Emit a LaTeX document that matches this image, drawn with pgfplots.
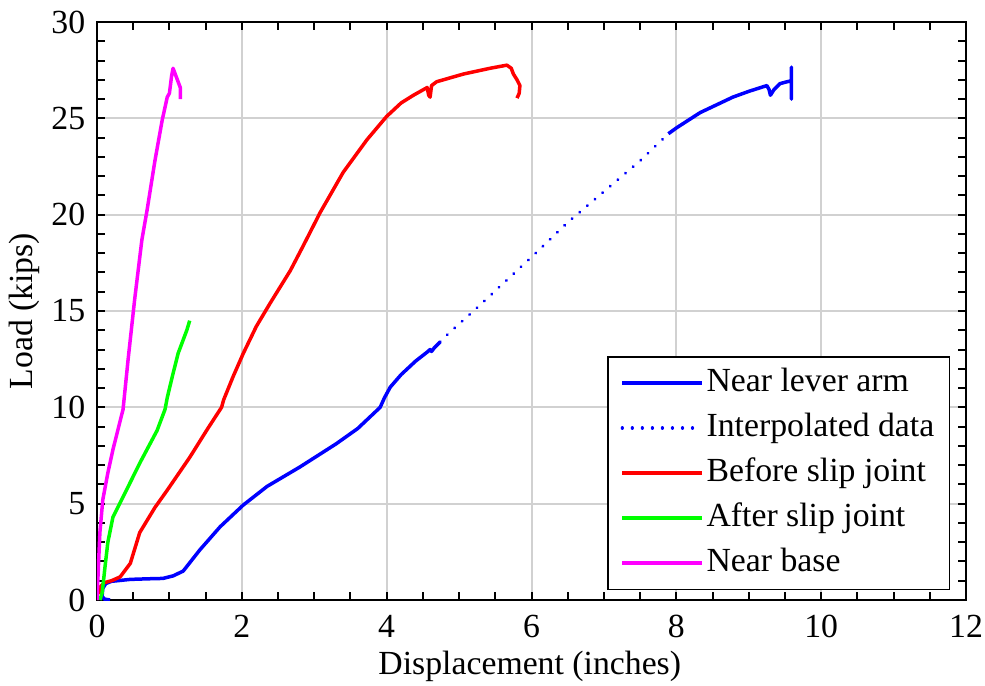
\documentclass[border=0pt]{standalone}
\usepackage{fontspec}
\setmainfont{Liberation Serif}
\usepackage{pgfplots}
\pgfplotsset{compat=1.18}
\definecolor{cblue}{RGB}{0,0,255}
\definecolor{cred}{RGB}{255,0,0}
\definecolor{cgreen}{RGB}{0,255,0}
\definecolor{cmag}{RGB}{255,0,255}
\begin{document}
\fontsize{13.5}{16}\selectfont
\begin{tikzpicture}
\begin{axis}[
 at={(0,0)}, anchor=south west,
 scale only axis, width=347.6pt, height=231.2pt,
 xmin=0, xmax=12, ymin=0, ymax=30,
 xtick={0,2,...,12}, ytick={0,5,...,30},
 minor x tick num=3, minor y tick num=4,
 tick align=inside, major tick length=3.2pt, minor tick length=3.2pt,
 tick style={black, line width=0.8pt},
 grid=major, major grid style={color=black!18, line width=0.8pt},
 axis line style={line width=0.8pt},
 /pgf/number format/assume math mode=true,
 ticklabel style={font=\fontsize{13.5}{16}\selectfont},
 xticklabel style={yshift=-1.5pt},
 label style={font=\fontsize{13.5}{16}\selectfont},
 xlabel={Displacement (inches)}, ylabel={Load (kips)},
 xlabel style={at={(axis description cs:0.498,-0.115)}, anchor=center},
 ylabel style={at={(axis description cs:-0.083,0.5)}, anchor=center},
 legend style={at={(0.9816,0.0173)}, anchor=south east, draw=black, line width=0.6pt,
   font=\fontsize{13.5}{16}\selectfont, row sep=3pt, inner xsep=5pt, inner ysep=3pt,
   nodes={inner sep=1pt, text height=10pt, text depth=3pt},
   cells={anchor=west}},
 legend image code/.code={\draw[#1] (0pt,0pt) -- (32pt,0pt);},
 every axis plot/.append style={line width=1.4pt, line join=round},
]
\addplot[cblue] coordinates {(0.18,0.0)(0.10,0.05)(0.07,0.2)(0.08,0.6)(0.12,0.85)(0.2,0.97)(0.46,1.07)(0.7,1.1)(0.91,1.12)(1.05,1.25)(1.19,1.5)(1.42,2.6)(1.7,3.8)(2.02,4.93)(2.35,5.9)(2.8,6.9)(3.3,8.1)(3.6,8.9)(3.91,10.0)(3.97,10.5)(4.05,11.05)(4.2,11.7)(4.4,12.4)(4.56,12.87)(4.6,13.0)(4.62,12.9)(4.66,13.1)(4.74,13.4)};
\addlegendentry{Near lever arm}
\addplot[cblue, line width=1.3pt, line cap=round, dash pattern=on 0.01pt off 4pt] coordinates {(4.74,13.4)(4.86,13.86)(5.2,15.0)(5.6,16.4)(6.0,17.8)(6.5,19.6)(7.0,21.2)(7.5,22.8)(7.89,24.2)};
\addlegendentry{Interpolated data}
\addplot[cred] coordinates {(0.03,0.3)(0.05,0.7)(0.1,0.9)(0.2,1.0)(0.32,1.2)(0.46,1.9)(0.59,3.5)(0.8,4.8)(0.97,5.7)(1.28,7.4)(1.53,8.9)(1.72,10.0)(1.75,10.4)(1.88,11.6)(2.02,12.8)(2.2,14.2)(2.39,15.4)(2.67,17.1)(2.85,18.4)(3.08,20.1)(3.4,22.2)(3.73,23.9)(4.0,25.1)(4.2,25.8)(4.37,26.2)(4.56,26.6)(4.58,26.2)(4.60,26.1)(4.62,26.7)(4.69,26.9)(5.06,27.3)(5.43,27.6)(5.66,27.76)(5.72,27.6)(5.75,27.3)(5.8,27.0)(5.84,26.7)(5.83,26.3)(5.80,26.05)};
\addlegendentry{Before slip joint}
\addplot[cgreen] coordinates {(0.04,0)(0.07,0.36)(0.09,1.0)(0.11,1.7)(0.15,3.0)(0.22,4.3)(0.36,5.35)(0.59,7.1)(0.83,8.8)(0.94,9.9)(0.97,10.5)(1.04,11.6)(1.12,12.8)(1.2,13.6)(1.24,14.0)(1.28,14.5)};
\addlegendentry{After slip joint}
\addplot[cmag] coordinates {(0.0,0)(0.01,0.9)(0.04,3.5)(0.08,5.2)(0.15,6.6)(0.22,7.8)(0.36,9.9)(0.43,12.5)(0.52,15.6)(0.62,18.7)(0.69,20.2)(0.80,22.8)(0.90,24.9)(0.97,26.1)(1.0,26.3)(1.03,27.2)(1.05,27.6)(1.08,27.3)(1.10,27.1)(1.15,26.6)(1.15,26.0)};
\addlegendentry{Near base}
\addplot[cblue, forget plot] coordinates {(7.89,24.2)(8.0,24.5)(8.33,25.3)(8.78,26.1)(9.0,26.4)(9.25,26.7)(9.28,26.5)(9.30,26.2)(9.35,26.5)(9.43,26.8)(9.53,26.9)(9.59,26.95)(9.59,27.66)(9.59,26.0)(9.59,26.9)};
\end{axis}
\pgfresetboundingbox
\path[use as bounding box] (-38.8pt,-34pt) rectangle (355.2pt,240pt);
\end{tikzpicture}
\end{document}
